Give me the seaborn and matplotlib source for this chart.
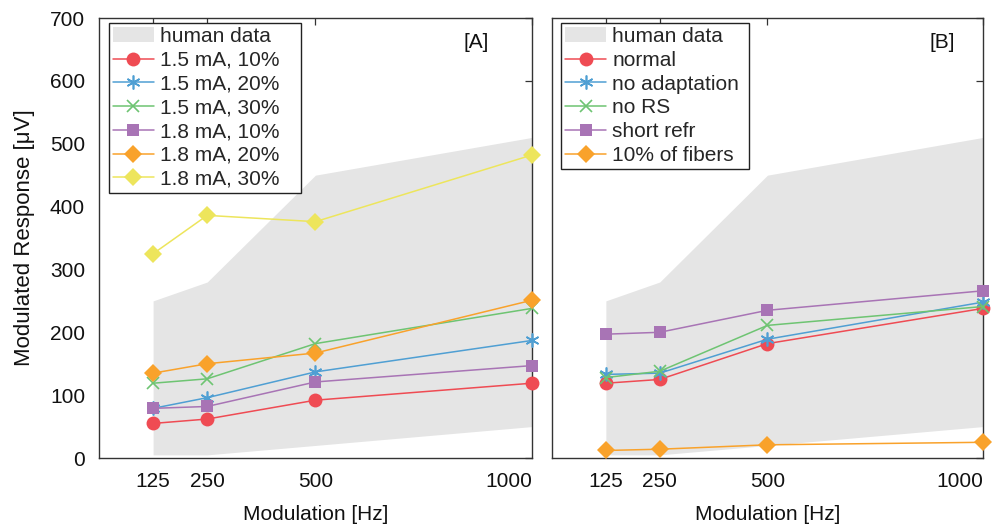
import matplotlib
matplotlib.use("Agg")
import matplotlib.pyplot as plt
import seaborn as sns
from matplotlib.patches import Patch

# Modulation frequencies [Hz]
freqs = [125, 250, 500, 1000]

# Range of human recordings (shaded band)
human_low = [5, 5, 20, 50]
human_high = [250, 280, 450, 510]

# Panel A: stimulation level / modulation depth
a_labels = ["1.5 mA, 10%", "1.5 mA, 20%", "1.5 mA, 30%",
            "1.8 mA, 10%", "1.8 mA, 20%", "1.8 mA, 30%"]
a_15_10 = [55, 62, 92, 119]
a_15_20 = [79, 96, 137, 187]
a_15_30 = [119, 126, 182, 238]
a_18_10 = [79, 82, 121, 147]
a_18_20 = [135, 150, 167, 251]
a_18_30 = [325, 386, 376, 482]

# Panel B: model variants
b_labels = ["normal", "no adaptation", "no RS", "short refr", "10% of fibers"]
b_normal = [119, 125, 182, 238]
b_noadapt = [133, 135, 189, 248]
b_nors = [128, 138, 211, 241]
b_short = [197, 200, 235, 266]
b_fibers = [12, 14, 21, 25]

sns.set_theme(style="white")
plt.rcParams["font.family"] = ["Liberation Sans", "DejaVu Sans"]

FS = 15
RED, BLUE, GREEN = "#ef4b53", "#4f9fd3", "#6ec472"
PURPLE, ORANGE, YELLOW = "#a874b5", "#f9a22b", "#ede55c"
BAND = "#e5e5e5"
ASTERISK = (6, 2, 0)

styles = [
    dict(marker="o", color=RED, ms=10, mew=0),
    dict(marker=ASTERISK, color=BLUE, ms=10, mew=1.2),
    dict(marker="x", color=GREEN, ms=8, mew=1.2),
    dict(marker="s", color=PURPLE, ms=8.5, mew=0),
    dict(marker="D", color=ORANGE, ms=9, mew=0),
    dict(marker="D", color=YELLOW, ms=9, mew=0),
]

fig = plt.figure(figsize=(9.96, 5.25), dpi=100)
axA = fig.add_axes([0.0994, 0.1276, 0.4346, 0.8381])
axB = fig.add_axes([0.5542, 0.1276, 0.4327, 0.8381])


def draw_panel(ax, series, labels, sty, tag, tag_x, box):
    ax.fill_between(freqs, human_low, human_high, color=BAND, lw=0, zorder=1)
    handles = [Patch(facecolor=BAND, edgecolor="none", label="human data")]
    for vals, lab, st in zip(series, labels, sty):
        sns.lineplot(x=freqs, y=vals, ax=ax, color=st["color"], marker=st["marker"],
                     markersize=st["ms"], markeredgewidth=st["mew"],
                     markeredgecolor=st["color"], linewidth=1.1, clip_on=False,
                     zorder=3, label=lab)
    line_handles, _ = ax.get_legend_handles_labels()
    handles += line_handles
    ax.legend(handles=handles, loc="upper left", bbox_to_anchor=box, mode="expand",
              fontsize=FS, frameon=True, fancybox=False, edgecolor="#222222",
              framealpha=1, borderpad=0.2, labelspacing=0.23, handlelength=1.95,
              handletextpad=0.3, borderaxespad=0.0)
    ax.legend_.get_frame().set_linewidth(1.0)
    ax.text(tag_x, 0.945, tag, transform=ax.transAxes, ha="center", va="center",
            fontsize=FS, color="#111111")
    ax.set_xlim(0, 1000)
    ax.set_ylim(0, 700)
    ax.set_xticks(freqs)
    ax.set_xticklabels([str(f) for f in freqs])
    ax.get_xticklabels()[-1].set_horizontalalignment("right")
    ax.set_yticks(range(0, 701, 100))
    ax.tick_params(direction="in", length=5, width=0.9, color="#333333",
                   top=True, right=True, labelsize=FS, labelcolor="#111111")
    ax.tick_params(axis="x", pad=10)
    ax.tick_params(axis="y", pad=10)
    for sp in ax.spines.values():
        sp.set_color("#333333")
        sp.set_linewidth(1.0)
    ax.set_xlabel("Modulation [Hz]", fontsize=FS, color="#111111", labelpad=10)


draw_panel(axA, [a_15_10, a_15_20, a_15_30, a_18_10, a_18_20, a_18_30],
           a_labels, styles, "[A]", 0.872, (0.023, 0.0, 0.443, 0.989))
draw_panel(axB, [b_normal, b_noadapt, b_nors, b_short, b_fibers],
           b_labels, styles[:4] + [styles[4]], "[B]", 0.905, (0.021, 0.0, 0.436, 0.989))

axA.set_ylabel("Modulated Response [\u03bcV]", fontsize=16, color="#111111", labelpad=11)
axB.set_ylabel("")
axB.tick_params(labelleft=False)

fig.savefig("out.png", dpi=100)
